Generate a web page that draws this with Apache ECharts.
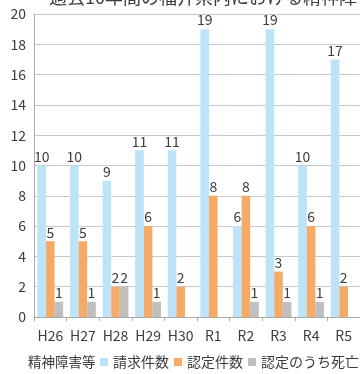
<!DOCTYPE html>
<html>
<head>
<meta charset="utf-8">
<script src="https://cdn.jsdelivr.net/npm/echarts@6/dist/echarts.min.js"></script>
<style>html,body{margin:0;padding:0;background:#fff}#c{width:360px;height:374px}</style>
</head>
<body>
<div id="c"></div>
<script>
const categories = ['H26','H27','H28','H29','H30','R1','R2','R3','R4','R5'];
const claims = [10,10,9,11,11,19,6,19,10,17];
const approved = [5,5,2,6,2,8,8,3,6,2];
const deaths = [1,1,2,1,0,0,1,1,1,0];
const yTicks = [0,2,4,6,8,10,12,14,16,18,20];
const seriesNames = ['請求件数','認定件数','認定のうち死亡'];
const colors = ['#bde3f8','#f4ab68','#bfbfbf'];
const FONT = '"Noto Sans CJK JP", "Noto Sans", sans-serif';

const chart = echarts.init(document.getElementById('c'));
const lbl = {
  show: true, position: 'top', distance: 2,
  fontSize: 14, color: '#3c3c3c', fontFamily: FONT,
  formatter: p => p.value === 0 ? '' : String(p.value)
};
function bar(name, data, color) {
  return { name, type: 'bar', data, barWidth: 8.6, barGap: '0%',
    itemStyle: { color }, label: lbl, emphasis: { disabled: true } };
}
chart.setOption({
  animation: false,
  textStyle: { fontFamily: FONT },
  title: {
    text: '過去10年間の福井県内における精神障害等の労災補償状況',
    left: 44, top: -17,
    textStyle: { fontSize: 18, fontWeight: 'normal', color: '#3c3c3c', fontFamily: FONT }
  },
  graphic: [{
    type: 'text', left: 28, top: 355,
    style: { text: '精神障害等', fontSize: 13.5, fill: '#3c3c3c', fontFamily: FONT }
  }],
  legend: {
    left: 100, top: 355, width: 600, itemWidth: 8, itemHeight: 8, itemGap: 5, icon: 'rect',
    padding: 0,
    textStyle: { fontSize: 14, color: '#3c3c3c', fontFamily: FONT },
    data: seriesNames
  },
  grid: { left: 34, right: -1, top: 14, bottom: 57, containLabel: false },
  xAxis: {
    type: 'category', data: categories,
    axisLine: { lineStyle: { color: '#aaaaaa' } },
    axisTick: { show: true, length: 4, lineStyle: { color: '#aaaaaa' } },
    axisLabel: { fontSize: 14, color: '#3c3c3c', margin: 12, fontFamily: FONT, interval: 0 }
  },
  yAxis: {
    type: 'value', min: 0, max: 20, interval: 2,
    axisLine: { show: true, lineStyle: { color: '#aaaaaa' } },
    axisTick: { show: false },
    splitLine: { lineStyle: { color: '#c8c8c8' } },
    axisLabel: { fontSize: 14, color: '#3c3c3c', margin: 8, fontFamily: FONT,
      formatter: v => yTicks.includes(v) ? String(v) : '' }
  },
  series: [
    bar(seriesNames[0], claims, colors[0]),
    bar(seriesNames[1], approved, colors[1]),
    bar(seriesNames[2], deaths, colors[2])
  ]
});
</script>
</body>
</html>
